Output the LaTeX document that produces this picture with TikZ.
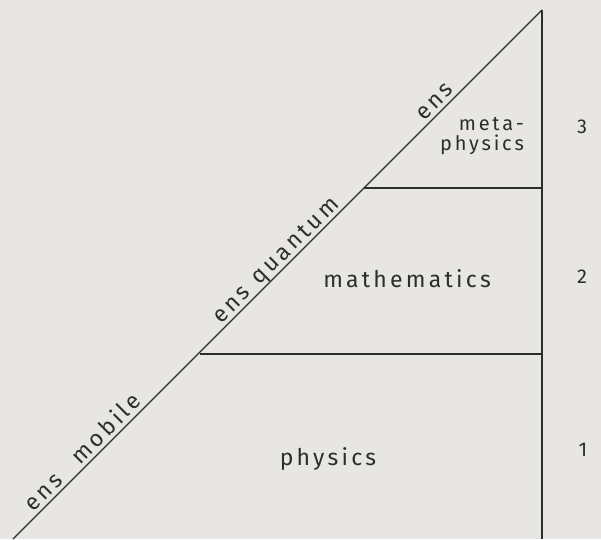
\documentclass[tikz,border=0pt]{standalone}
\usepackage{fontspec}
\setmainfont{Fira Sans}[LetterSpace=14]
\usepackage{tikz}
\definecolor{paper}{RGB}{232,230,226}
\definecolor{ink}{RGB}{45,45,45}

\begin{document}
\begin{tikzpicture}[
    x=1pt, y=-1pt, % pixel-like units, y grows downwards
    ink, line width=1.2pt,
    field/.style={font=\fontsize{23}{20}\selectfont, inner sep=0pt, anchor=base},
    slope/.style={font=\fontsize{23}{20}\selectfont, sloped, inner sep=0pt, text depth=0pt, above=4pt},
    rank/.style={font=\fontsize{20}{20}\selectfont, inner sep=0pt, anchor=base}
]

% Paper
\fill[paper] (0,0) rectangle (601,539);
\useasboundingbox (0,0) rectangle (601,539);

% Define the corners
\coordinate (apex) at (542,10);
\coordinate (foot) at (542,539);
\coordinate (toe) at (13,539);
\coordinate (metaL) at (364,188);
\coordinate (metaR) at (542,188);
\coordinate (mathL) at (200,354);
\coordinate (mathR) at (542,354);

% Define the outline and the levels
\draw (toe) -- (apex)
    node[slope, pos=0.148] {ens\quad mobile}
    node[slope, pos=0.512] {ens\enspace quantum}
    node[slope, pos=0.812] {ens};
\draw (apex) -- (foot);
\draw (metaL) -- (metaR);
\draw (mathL) -- (mathR);

% Define the fields
\node[field, align=right, font=\fontsize{20}{20}\selectfont] (meta) at (482,150) {meta-\\physics};
\node[field] (math) at (407,287) {mathematics};
\node[field] (phys) at (328,465) {physics};

% Define the ranks
\node[rank] (r3) at (582,133) {3};
\node[rank] (r2) at (582,283) {2};
\node[rank] (r1) at (583,456) {1};

\end{tikzpicture}
\end{document}
